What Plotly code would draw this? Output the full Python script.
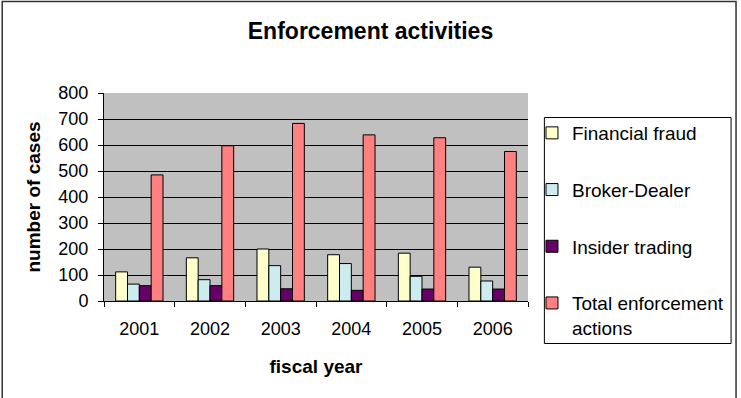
import plotly.graph_objects as go

years = ["2001", "2002", "2003", "2004", "2005", "2006"]
financial_fraud = [112, 166, 200, 178, 184, 130]
broker_dealer = [65, 82, 136, 144, 95, 77]
insider_trading = [59, 59, 47, 41, 46, 46]
total_actions = [485, 597, 683, 639, 628, 575]

series = [
    ("Financial fraud", financial_fraud, "#FFFFCC"),
    ("Broker-Dealer", broker_dealer, "#CCECF0"),
    ("Insider trading", insider_trading, "#660066"),
    ("Total enforcement<br>actions", total_actions, "#FF8080"),
]

fig = go.Figure()
for i, (name, vals, col) in enumerate(series):
    fig.add_trace(go.Bar(
        x=years, y=vals, name=name, legendgroup=f"g{i}",
        marker=dict(color=col, line=dict(color="black", width=1)),
    ))

W, H = 741, 398
L, R, T, B = 104, 210, 93, 97
pw, ph = W - L - R, H - T - B


def px_x(x):
    return (x - L) / pw


def px_y(y):
    return (H - B - y) / ph


fig.update_layout(
    width=W, height=H,
    margin=dict(l=L, r=R, t=T, b=B),
    paper_bgcolor="white",
    plot_bgcolor="#C0C0C0",
    barmode="group",
    bargap=0.33,
    bargroupgap=0,
    font=dict(family="Liberation Sans, Arial, sans-serif", size=18, color="black"),
    title=dict(text="<b>Enforcement activities</b>", x=0.5, xref="container", xanchor="center",
               y=1 - 31 / H, yanchor="middle", font=dict(size=23)),
    showlegend=True,
    legend=dict(
        x=px_x(535), y=px_y(114), xanchor="left", yanchor="top",
        borderwidth=0, bgcolor="rgba(0,0,0,0)",
        traceorder="grouped", tracegroupgap=29, valign="top",
        font=dict(size=19), maxheight=600,
    ),
    xaxis=dict(
        title=dict(text="<b>fiscal year</b>", standoff=22, font=dict(size=19)),
        showgrid=False, ticks="outside", tickson="boundaries", ticklen=5,
        tickcolor="black", showline=True, linecolor="black", linewidth=1,
        ticklabelstandoff=11,
    ),
    yaxis=dict(
        title=dict(text="<b>number of cases</b>", standoff=12, font=dict(size=19)),
        range=[0, 800], dtick=100, showgrid=True, gridcolor="black", gridwidth=1,
        ticks="outside", ticklen=5, tickcolor="black",
        showline=True, linecolor="black", linewidth=1, zeroline=False,
        ticklabelstandoff=6,
    ),
    shapes=[
        dict(type="rect", xref="paper", yref="paper",
             x0=px_x(1.5), x1=px_x(740.5), y0=px_y(402), y1=px_y(1.5),
             line=dict(color="#333333", width=1.5), fillcolor="rgba(0,0,0,0)"),
        dict(type="rect", xref="paper", yref="paper",
             x0=px_x(547.5), x1=px_x(735.5), y0=px_y(343.5), y1=px_y(117.5),
             line=dict(color="black", width=1), fillcolor="rgba(0,0,0,0)"),
    ],
)

fig.write_html("out.html")
